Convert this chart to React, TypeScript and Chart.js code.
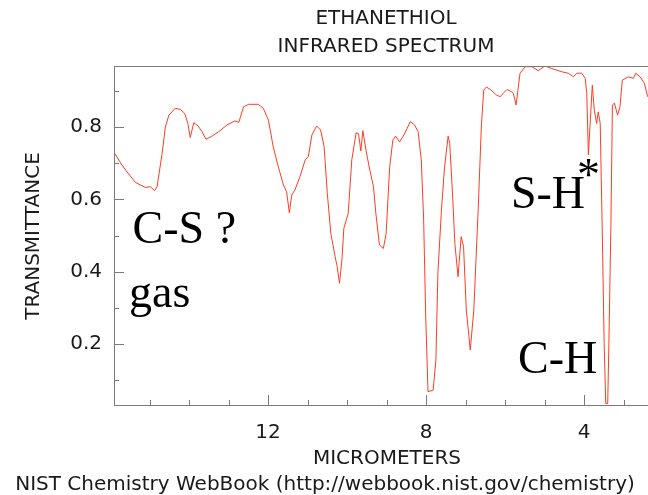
import React, { useEffect, useRef } from 'react';
import { Chart, registerables } from 'chart.js';

Chart.register(...registerables);

// ---- data ----
const WAVELENGTH_UM = [
  15.88, 15.7, 15.57, 15.36, 15.11, 14.98, 14.87, 14.81, 14.68, 14.6,
  14.51, 14.35, 14.22, 14.11, 14.03, 13.97, 13.88, 13.77, 13.67, 13.57,
  13.42, 13.25, 13.04, 12.84, 12.74, 12.62, 12.49, 12.25, 12.12, 11.99,
  11.87, 11.74, 11.61, 11.53, 11.46, 11.4, 11.32, 11.19, 11.06, 10.98,
  10.89, 10.77, 10.67, 10.58, 10.5, 10.41, 10.3, 10.25, 10.19, 10.13,
  10.08, 9.97, 9.88, 9.77, 9.71, 9.65, 9.6, 9.52, 9.44, 9.33,
  9.27, 9.18, 9.08, 9.01, 8.92, 8.84, 8.77, 8.67, 8.56, 8.48,
  8.4, 8.29, 8.2, 8.12, 8.06, 8.01, 7.95, 7.82, 7.75, 7.7,
  7.61, 7.53, 7.44, 7.4, 7.33, 7.27, 7.19, 7.11, 7.05, 6.98,
  6.88, 6.79, 6.68, 6.6, 6.54, 6.47, 6.35, 6.22, 6.12, 6.05,
  5.95, 5.84, 5.79, 5.72, 5.62, 5.49, 5.32, 5.16, 4.99, 4.82,
  4.56, 4.4, 4.27, 4.18, 4.06, 3.97, 3.93, 3.89, 3.85, 3.79,
  3.74, 3.68, 3.64, 3.59, 3.54, 3.49, 3.45, 3.4, 3.37, 3.32,
  3.28, 3.23, 3.15, 3.09, 3.03, 2.88, 2.75, 2.69, 2.58, 2.47,
  2.39,
];
const TRANSMITTANCE = [
  0.727, 0.695, 0.676, 0.647, 0.633, 0.635, 0.624, 0.635, 0.728, 0.8,
  0.833, 0.852, 0.849, 0.838, 0.81, 0.771, 0.812, 0.803, 0.787, 0.766,
  0.775, 0.787, 0.806, 0.817, 0.813, 0.856, 0.863, 0.863, 0.852, 0.819,
  0.746, 0.69, 0.64, 0.621, 0.563, 0.612, 0.626, 0.663, 0.709, 0.718,
  0.778, 0.803, 0.792, 0.746, 0.617, 0.506, 0.441, 0.414, 0.368, 0.432,
  0.52, 0.561, 0.709, 0.784, 0.782, 0.734, 0.79, 0.736, 0.69, 0.635,
  0.561, 0.474, 0.464, 0.506, 0.69, 0.764, 0.775, 0.759, 0.778, 0.796,
  0.815, 0.806, 0.787, 0.709, 0.543, 0.285, 0.068, 0.072, 0.155, 0.395,
  0.57, 0.69, 0.775, 0.755, 0.617, 0.478, 0.386, 0.497, 0.469, 0.294,
  0.183, 0.294, 0.57, 0.8, 0.902, 0.911, 0.902, 0.889, 0.884, 0.893,
  0.904, 0.898, 0.893, 0.861, 0.949, 0.967, 0.967, 0.956, 0.969, 0.962,
  0.953, 0.949, 0.939, 0.949, 0.949, 0.935, 0.893, 0.723, 0.8, 0.916,
  0.847, 0.81, 0.842, 0.81, 0.524, 0.202, 0.035, 0.035, 0.202, 0.524,
  0.861, 0.866, 0.833, 0.856, 0.93, 0.939, 0.935, 0.949, 0.939, 0.921,
  0.884,
];

const X_MAJOR_TICKS = [12, 8, 4];
const X_MINOR_TICKS = [15, 14, 13, 11, 10, 9, 7, 6, 5, 3];
const Y_MAJOR_TICKS = [0.2, 0.4, 0.6, 0.8];
const Y_MINOR_TICKS = [0.1, 0.3, 0.5, 0.7, 0.9];

const TITLE_LINES = ['ETHANETHIOL', 'INFRARED SPECTRUM'];
const X_TITLE = 'MICROMETERS';
const Y_TITLE = 'TRANSMITTANCE';
const FOOTER = 'NIST Chemistry WebBook (http://webbook.nist.gov/chemistry)';

// annotation labels anchored in data coordinates (wavelength, transmittance)
const NOTE_TEXTS = ['C-S ?', 'gas', 'S-H', '*', 'C-H'];
const NOTE_UM = [15.43, 15.52, 5.85, 4.18, 5.67];
const NOTE_T = [0.479, 0.302, 0.576, 0.625, 0.12];

const LINE_COLOR = 'rgb(255, 60, 35)';
const AXIS_COLOR = '#7a7a7a';
const TEXT_COLOR = '#1a1a1a';
const SANS = '"DejaVu Sans", sans-serif';
const SERIF = '"Liberation Serif", "Times New Roman", serif';

const overlayPlugin = {
  id: 'overlay',
  afterDraw(chart: any) {
    const { ctx, chartArea, scales } = chart;
    const xs = scales.x;
    const ys = scales.y;
    ctx.save();
    ctx.strokeStyle = AXIS_COLOR;
    ctx.lineWidth = 1;
    // top frame line
    ctx.beginPath();
    ctx.moveTo(chartArea.left, Math.round(chartArea.top) + 0.5);
    ctx.lineTo(chartArea.right, Math.round(chartArea.top) + 0.5);
    ctx.stroke();
    // inward x ticks
    const bottom = Math.round(chartArea.bottom);
    const drawX = (v: number, len: number) => {
      const px = Math.round(xs.getPixelForValue(v)) + 0.5;
      ctx.beginPath();
      ctx.moveTo(px, bottom);
      ctx.lineTo(px, bottom - len);
      ctx.stroke();
    };
    X_MAJOR_TICKS.forEach((v) => drawX(v, 10));
    X_MINOR_TICKS.forEach((v) => drawX(v, 5));
    // inward y ticks
    const left = Math.round(chartArea.left);
    const drawY = (v: number, len: number) => {
      const py = Math.round(ys.getPixelForValue(v)) + 0.5;
      ctx.beginPath();
      ctx.moveTo(left, py);
      ctx.lineTo(left + len, py);
      ctx.stroke();
    };
    Y_MAJOR_TICKS.forEach((v) => drawY(v, 10));
    Y_MINOR_TICKS.forEach((v) => drawY(v, 5));

    // texts
    ctx.fillStyle = TEXT_COLOR;
    ctx.font = `20px ${SANS}`;
    ctx.textAlign = 'center';
    ctx.textBaseline = 'middle';
    ctx.fillText(TITLE_LINES[0], 386, 19);
    ctx.fillText(TITLE_LINES[1], 386, 47);
    ctx.fillText(X_TITLE, 387, 459);
    ctx.fillText(FOOTER, 325, 485);
    ctx.save();
    ctx.translate(33.5, 236);
    ctx.rotate(-Math.PI / 2);
    ctx.fillText(Y_TITLE, 0, 0);
    ctx.restore();

    // annotations
    ctx.fillStyle = '#000';
    ctx.textAlign = 'left';
    ctx.textBaseline = 'alphabetic';
    NOTE_TEXTS.forEach((t, i) => {
      ctx.font = `46px ${SERIF}`;
      ctx.fillText(t, xs.getPixelForValue(NOTE_UM[i]), ys.getPixelForValue(NOTE_T[i]));
    });
    ctx.restore();
  },
};

export default function App() {
  const canvasRef = useRef<HTMLCanvasElement | null>(null);

  useEffect(() => {
    document.body.style.margin = '0';
    const canvas = canvasRef.current;
    if (!canvas) return;
    const points = WAVELENGTH_UM.map((x, i) => ({ x, y: TRANSMITTANCE[i] }));
    const chart = new Chart(canvas, {
      type: 'line',
      data: {
        datasets: [
          {
            data: points,
            borderColor: LINE_COLOR,
            borderWidth: 1,
            pointRadius: 0,
            tension: 0,
            fill: false,
          },
        ],
      },
      options: {
        animation: false,
        responsive: false,
        maintainAspectRatio: false,
        layout: { padding: { top: 66, right: 0, left: 0, bottom: 0 } },
        plugins: {
          legend: { display: false },
          title: { display: false },
          tooltip: { enabled: false },
        },
        scales: {
          x: {
            type: 'linear',
            reverse: true,
            min: 2.38,
            max: 15.9,
            grid: { display: false },
            border: { display: true, color: AXIS_COLOR, width: 1 },
            afterBuildTicks: (s: any) => {
              s.ticks = X_MAJOR_TICKS.map((v) => ({ value: v }));
            },
            afterFit: (s: any) => {
              s.height = 90;
            },
            ticks: {
              font: { family: SANS, size: 20 },
              color: TEXT_COLOR,
              padding: 8,
              maxRotation: 0,
              callback: (v: any) => String(v),
            },
          },
          y: {
            type: 'linear',
            min: 0.031,
            max: 0.969,
            grid: { display: false },
            border: { display: true, color: AXIS_COLOR, width: 1 },
            afterBuildTicks: (s: any) => {
              s.ticks = Y_MAJOR_TICKS.map((v) => ({ value: v }));
            },
            afterFit: (s: any) => {
              s.width = 114;
            },
            ticks: {
              font: { family: SANS, size: 20 },
              color: TEXT_COLOR,
              padding: 4,
              callback: (v: any) => Number(v).toFixed(1),
            },
          },
        },
      },
      plugins: [overlayPlugin],
    });
    return () => chart.destroy();
  }, []);

  return (
    <div style={{ width: 648, height: 495, position: 'relative' }}>
      <canvas ref={canvasRef} width={648} height={495} style={{ display: 'block' }} />
    </div>
  );
}
